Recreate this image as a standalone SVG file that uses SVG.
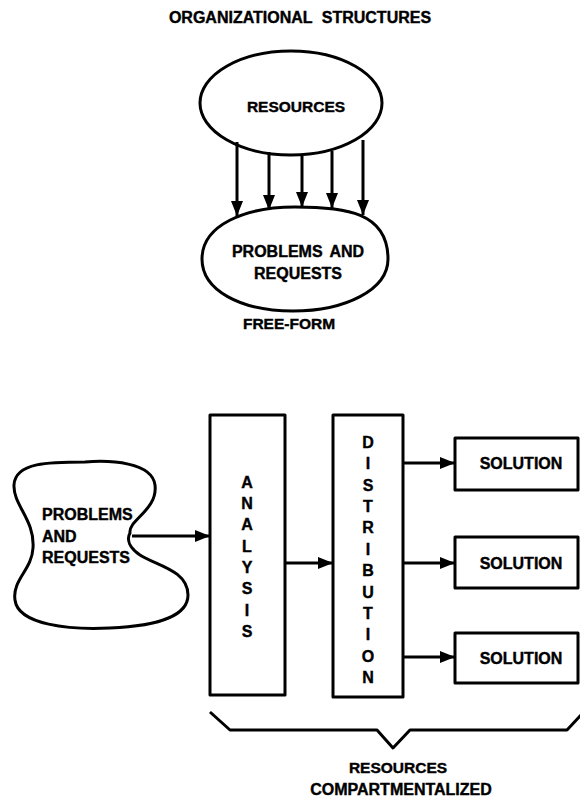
<svg xmlns="http://www.w3.org/2000/svg" width="580" height="799" viewBox="0 0 580 799">
<style>
.s{fill:none;stroke:#000;stroke-width:3;stroke-linejoin:round}
.t{font-family:"Liberation Sans",Arial,sans-serif;font-weight:bold;font-size:16px;fill:#000;stroke:#000;stroke-width:0.4;text-anchor:middle}
.m{font-size:15.5px}
.l{text-anchor:start}
.c{stroke:#000;stroke-width:3;fill:none}
</style>
<defs>
<marker id="ah" markerWidth="16" markerHeight="14" refX="15" refY="7" orient="auto" markerUnits="userSpaceOnUse">
<path d="M0,1 L15,7 L0,13 Z" fill="#000"/>
</marker>
</defs>
<rect width="580" height="799" fill="#fff"/>
<text class="t" x="300" y="23" word-spacing="5">ORGANIZATIONAL STRUCTURES</text>
<g id="resources">
<ellipse class="s" cx="291" cy="103" rx="91" ry="52"/>
<text class="t m" x="296" y="112">RESOURCES</text>
</g>
<g id="problems-top">
<path class="s" d="M202 259 C202 225 245 207 295 207 C345 207 388 212 388 259 C388 290 345 311 293 311 C240 311 202 290 202 259 Z"/>
<text class="t" x="298" y="257" word-spacing="3">PROBLEMS AND</text>
<text class="t" x="298" y="279">REQUESTS</text>
</g>
<text class="t m" x="289" y="329">FREE-FORM</text>
<g id="blob">
<path class="s" d="M130 533 C128 520 158 510 155 485 C152 462 110 460 85 462 C50 462 15 462 14 485 C13 505 35 520 33 548 C32 570 12 580 15 600 C18 625 70 630 110 628 C160 626 188 615 188 595 C188 570 155 565 140 555 C130 548 126 540 130 533 Z"/>
<text class="t l" x="42" y="520">PROBLEMS</text>
<text class="t l" x="42" y="542">AND</text>
<text class="t l" x="42" y="563">REQUESTS</text>
</g>
<g id="analysis">
<rect class="s" x="210" y="415" width="75" height="280"/>
<text class="t" x="247" y="488">A</text>
<text class="t" x="247" y="509">N</text>
<text class="t" x="247" y="530">A</text>
<text class="t" x="247" y="552">L</text>
<text class="t" x="247" y="573">Y</text>
<text class="t" x="247" y="594">S</text>
<text class="t" x="247" y="616">I</text>
<text class="t" x="247" y="637">S</text>
</g>
<g id="distribution">
<rect class="s" x="333" y="415" width="70" height="282"/>
<text class="t" x="368" y="448">D</text>
<text class="t" x="368" y="469">I</text>
<text class="t" x="368" y="491">S</text>
<text class="t" x="368" y="512">T</text>
<text class="t" x="368" y="533">R</text>
<text class="t" x="368" y="555">I</text>
<text class="t" x="368" y="576">B</text>
<text class="t" x="368" y="598">U</text>
<text class="t" x="368" y="619">T</text>
<text class="t" x="368" y="640">I</text>
<text class="t" x="368" y="662">O</text>
<text class="t" x="368" y="683">N</text>
</g>
<g id="solution1">
<rect class="s" x="455" y="438" width="123" height="52"/>
<text class="t" x="521" y="469">SOLUTION</text>
</g>
<g id="solution2">
<rect class="s" x="455" y="537" width="123" height="51"/>
<text class="t" x="521" y="569">SOLUTION</text>
</g>
<g id="solution3">
<rect class="s" x="455" y="633" width="123" height="50"/>
<text class="t" x="521" y="664">SOLUTION</text>
</g>
<g id="connectors">
<line class="c" x1="237" y1="142" x2="237" y2="216" marker-end="url(#ah)"/>
<line class="c" x1="269" y1="152" x2="269" y2="210" marker-end="url(#ah)"/>
<line class="c" x1="302" y1="155" x2="302" y2="207" marker-end="url(#ah)"/>
<line class="c" x1="332" y1="151" x2="332" y2="208" marker-end="url(#ah)"/>
<line class="c" x1="363" y1="140" x2="363" y2="215" marker-end="url(#ah)"/>
<line class="c" x1="132" y1="536" x2="210" y2="536" marker-end="url(#ah)"/>
<line class="c" x1="285" y1="563" x2="333" y2="563" marker-end="url(#ah)"/>
<line class="c" x1="403" y1="463" x2="455" y2="463" marker-end="url(#ah)"/>
<line class="c" x1="403" y1="563" x2="455" y2="563" marker-end="url(#ah)"/>
<line class="c" x1="403" y1="657" x2="455" y2="657" marker-end="url(#ah)"/>
</g>
<g id="brace">
<path class="s" d="M210 712 L230 730 L377 730 L393 748 L410 730 L567 730 L581 715"/>
</g>
<text class="t m" x="398" y="773">RESOURCES</text>
<text class="t" x="401" y="795">COMPARTMENTALIZED</text>
</svg>
